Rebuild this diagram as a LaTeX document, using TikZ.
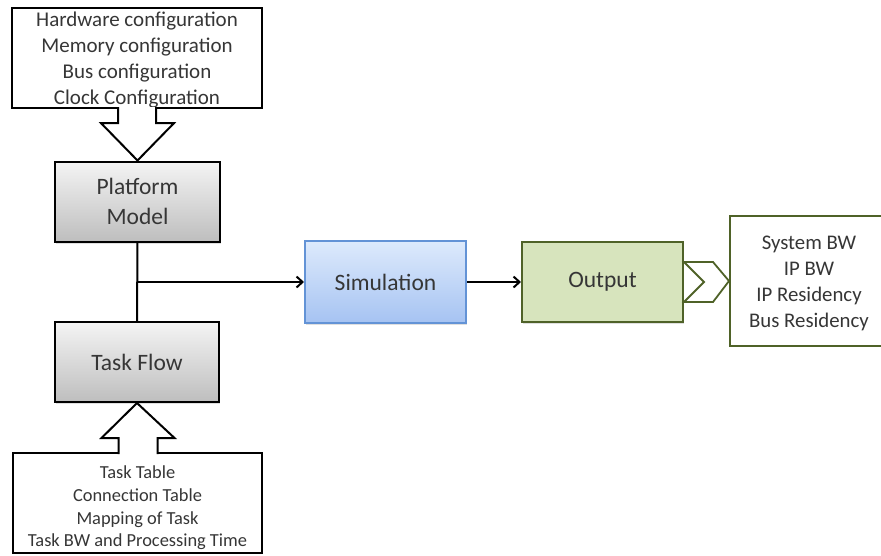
\documentclass[tikz,border=0pt]{standalone}
\usepackage{fontspec}
\setmainfont{Carlito}
\usetikzlibrary{arrows.meta,calc,shadows}

\definecolor{txtcol}{HTML}{363636}
\definecolor{grayTop}{HTML}{F4F4F4}
\definecolor{grayBot}{HTML}{BEBEBE}
\definecolor{blueTop}{HTML}{DDEAFC}
\definecolor{blueBot}{HTML}{A6C3F2}
\definecolor{blueLine}{HTML}{6393D6}
\definecolor{greenFill}{HTML}{D7E4BD}
\definecolor{greenLine}{HTML}{4F6228}

\newcommand\fsTop{\fontsize{21}{26}\selectfont}
\newcommand\fsBot{\fontsize{18.4}{22.7}\selectfont}
\newcommand\fsRes{\fontsize{20.8}{26}\selectfont}
\newcommand\fsMain{\fontsize{23.5}{30.5}\selectfont}
% a centred block of lines with extra space #1 on top (moves it down by #1/2)
\newcommand\lowblock[3]{\parbox{#2}{\centering\vspace*{#1}#3}}

\tikzset{
  infobox/.style={draw=black, line width=2pt, fill=white, text=txtcol,
    align=center, inner sep=0pt},
  graybox/.style={draw=black, line width=2pt, top color=grayTop,
    bottom color=grayBot, text=txtcol, align=center, inner sep=0pt,
    font=\fsMain, minimum width=165pt, minimum height=80pt,
    drop shadow={opacity=0.25, shadow xshift=1pt, shadow yshift=-2pt}},
  simbox/.style={draw=blueLine, line width=2pt, top color=blueTop,
    bottom color=blueBot, text=txtcol, inner sep=0pt, font=\fsMain,
    minimum width=161pt, minimum height=82pt,
    drop shadow={opacity=0.25, shadow xshift=1pt, shadow yshift=-2pt}},
  outbox/.style={draw=greenLine, line width=2pt, fill=greenFill,
    text=txtcol, inner sep=0pt, font=\fsMain,
    minimum width=161pt, minimum height=80pt,
    drop shadow={opacity=0.25, shadow xshift=1pt, shadow yshift=-2pt}},
  resbox/.style={draw=greenLine, line width=2pt, fill=white, text=txtcol,
    align=center, inner sep=0pt, font=\fsRes,
    minimum width=158pt, minimum height=130pt},
  conn/.style={line width=2pt, -{Straight Barb[length=6pt,width=11pt,line width=2pt]}},
  blockline/.style={line width=2pt, line join=miter, draw=black},
}

\begin{document}
\begin{tikzpicture}[x=1pt, y=-1pt]
\useasboundingbox (0,0) rectangle (881,555);
\clip (0,0) rectangle (881,555);

% input and output description boxes
\node[infobox, minimum width=250pt, minimum height=100pt, font=\fsTop] (hw) at (137,58)
  {\lowblock{4pt}{250pt}{Hardware configuration\\Memory configuration\\Bus configuration\\Clock Configuration}};
\node[infobox, minimum width=249pt, minimum height=100pt, font=\fsBot] (tt) at (137.5,503)
  {\lowblock{10pt}{249pt}{Task Table\\Connection Table\\Mapping of Task\\Task BW and Processing Time}};
\node[resbox] (res) at (809,281)
  {\lowblock{4pt}{158pt}{System BW\\IP BW\\IP Residency\\Bus Residency}};

% main flow blocks
\node[graybox] (plat) at (137.5,201.5) {Platform\\Model};
\node[graybox, minimum width=164pt] (task) at (137,362) {Task Flow};
\node[simbox] (sim) at (385.5,282) {Simulation};
\node[outbox] (out) at (602.5,282) {Output};

% block arrow: configuration -> platform model
\fill[white] ($(hw.south)+(-19,-2)$) -- ($(hw.south)+(-19,14)$) -- ($(hw.south)+(-36,14)$)
  -- (plat.north) -- ($(hw.south)+(37,14)$) -- ($(hw.south)+(19,14)$)
  -- ($(hw.south)+(19,-2)$) -- cycle;
\draw[blockline] ($(hw.south)+(-19,-2)$) -- ($(hw.south)+(-19,14)$) -- ($(hw.south)+(-36,14)$)
  -- (plat.north) -- ($(hw.south)+(37,14)$) -- ($(hw.south)+(19,14)$)
  -- ($(hw.south)+(19,-2)$);

% block arrow: task tables -> task flow
\fill[white] ($(tt.north)+(-19,2)$) -- ($(tt.north)+(-19,-14)$) -- ($(tt.north)+(-36,-14)$)
  -- (task.south) -- ($(tt.north)+(37,-14)$) -- ($(tt.north)+(20,-14)$)
  -- ($(tt.north)+(20,2)$) -- cycle;
\draw[blockline] ($(tt.north)+(-19,2)$) -- ($(tt.north)+(-19,-14)$) -- ($(tt.north)+(-36,-14)$)
  -- (task.south) -- ($(tt.north)+(37,-14)$) -- ($(tt.north)+(20,-14)$)
  -- ($(tt.north)+(20,2)$);

% connectors
\coordinate (br) at (plat.south |- sim.west);
\draw[line width=2pt] (plat.south) -- (task.north);
\draw[conn] (br) -- (sim.west);
\draw[conn] (sim.east) -- (out.west);

% chevron from output to result box
\filldraw[fill=white, draw=greenLine, line width=1.8pt, line join=miter]
  ($(out.east)+(0,-20)$) -- ($(out.east)+(29,-20)$) -- (res.west)
  -- ($(out.east)+(29,20)$) -- ($(out.east)+(0,20)$) -- ($(out.east)+(20,0)$) -- cycle;
\end{tikzpicture}
\end{document}
